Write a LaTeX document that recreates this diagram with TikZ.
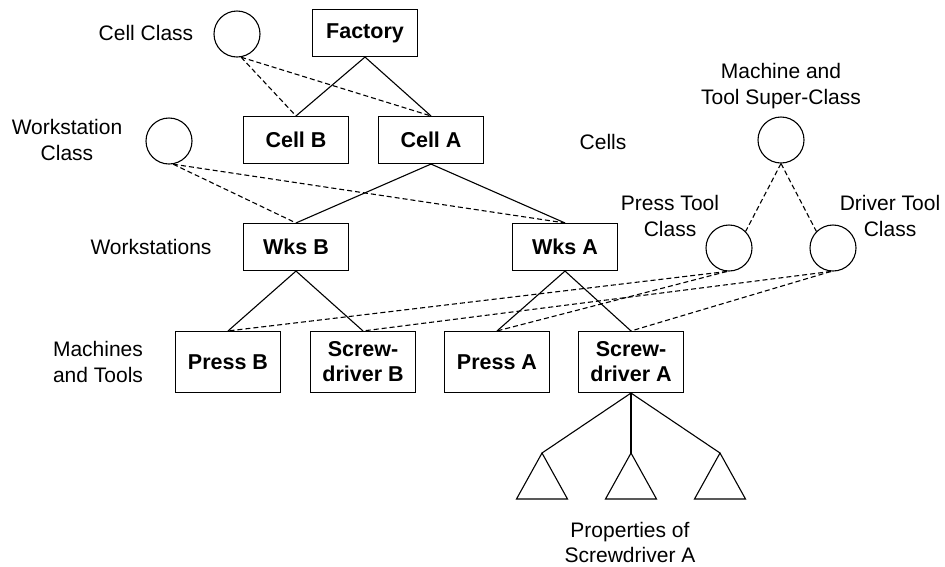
\documentclass[tikz,border=0pt]{standalone}
\usepackage{fontspec}
\setmainfont{Liberation Sans}
\usepackage{tikz}
\usetikzlibrary{positioning,shapes,calc}

\begin{document}
\begin{tikzpicture}[
          x=1pt,y=-1pt,line width=1.1pt,
          every node/.style={font=\fontsize{21pt}{26.5pt}\selectfont},
          objnode/.style={draw,rectangle,minimum width=105pt,minimum height=47pt,
            align=center,inner sep=1pt,font=\fontsize{21.5pt}{25pt}\selectfont\bfseries},
          tallnode/.style={objnode,minimum height=61pt},
          clsnode/.style={draw,circle,minimum size=46pt,inner sep=0pt},
          lbl/.style={align=center},
          isa/.style={dash pattern=on 5pt off 3pt}
          ]
          \useasboundingbox (0,0) rectangle (945,566);
          % the objects
          \node[objnode] (fac) at (365,33) {Factory};
          \node[objnode] (cellB) at (296,140) {Cell B};
          \node[objnode] (cellA) at (431,140) {Cell A};
          \node[objnode] (wksB) at (296,247) {Wks B};
          \node[objnode] (wksA) at (565,247) {Wks A};
          \node[tallnode] (prB) at (228,362) {Press B};
          \node[tallnode] (sdB) at (363,362) {Screw-\\driver B};
          \node[tallnode] (prA) at (497,362) {Press A};
          \node[tallnode] (sdA) at (631,362) {Screw-\\driver A};
          % the classes
          \node[clsnode] (cc) at (237,34) {};
          \node[clsnode] (wc) at (169,141) {};
          \node[clsnode] (mc) at (781,140) {};
          \node[clsnode] (pc) at (729,248) {};
          \node[clsnode] (dc) at (833,248) {};
          % the labels
          \node[lbl] (lcc) at (146,33) {Cell Class};
          \node[lbl] (lwc) at (67,140) {Workstation\\Class};
          \node[lbl] (lcell) at (603,142) {Cells};
          \node[lbl] (lwks) at (151,247) {Workstations};
          \node[lbl] (lmt) at (98,362) {Machines\\and Tools};
          \node[lbl] (lmc) at (781,86) {Machine and\\Tool Super-Class};
          \node[lbl] (lpc) at (670,216) {Press Tool\\Class};
          \node[lbl] (ldc) at (890,216) {Driver Tool\\Class};
          \node[lbl,font=\fontsize{21pt}{25pt}\selectfont] (lprop) at (630,542) {Properties of\\Screwdriver A};
          % the properties
          \foreach \i/\xcoord in {1/542,2/631,3/720}
          {
            \coordinate (p\i) at (\xcoord,453);
            \draw (p\i) -- ++(-25.5,46) -- ++(51,0) -- cycle;
            \draw (sdA.south) -- (p\i);
          }
          % the part-of edges
          \draw (fac.south) -- (cellB.north);
          \draw (fac.south) -- (cellA.north);
          \draw (cellA.south) -- (wksB.north);
          \draw (cellA.south) -- (wksA.north);
          \draw (wksB.south) -- (prB.north);
          \draw (wksB.south) -- (sdB.north);
          \draw (wksA.south) -- (prA.north);
          \draw (wksA.south) -- (sdA.north);
          % the instance edges
          \draw[isa] (cc.-80) -- (cellB.north);
          \draw[isa] (cc.-80) -- (cellA.north);
          \draw[isa] (wc.-80) -- (wksB.north);
          \draw[isa] (wc.-80) -- (wksA.north);
          \draw[isa] (mc.south) -- (pc.45);
          \draw[isa] (mc.south) -- (dc.135);
          \draw[isa] (pc.-95) -- (prB.north);
          \draw[isa] (pc.-95) -- (prA.north);
          \draw[isa] (dc.-95) -- (sdB.north);
          \draw[isa] (dc.-95) -- (sdA.north);
        \end{tikzpicture}
\end{document}
